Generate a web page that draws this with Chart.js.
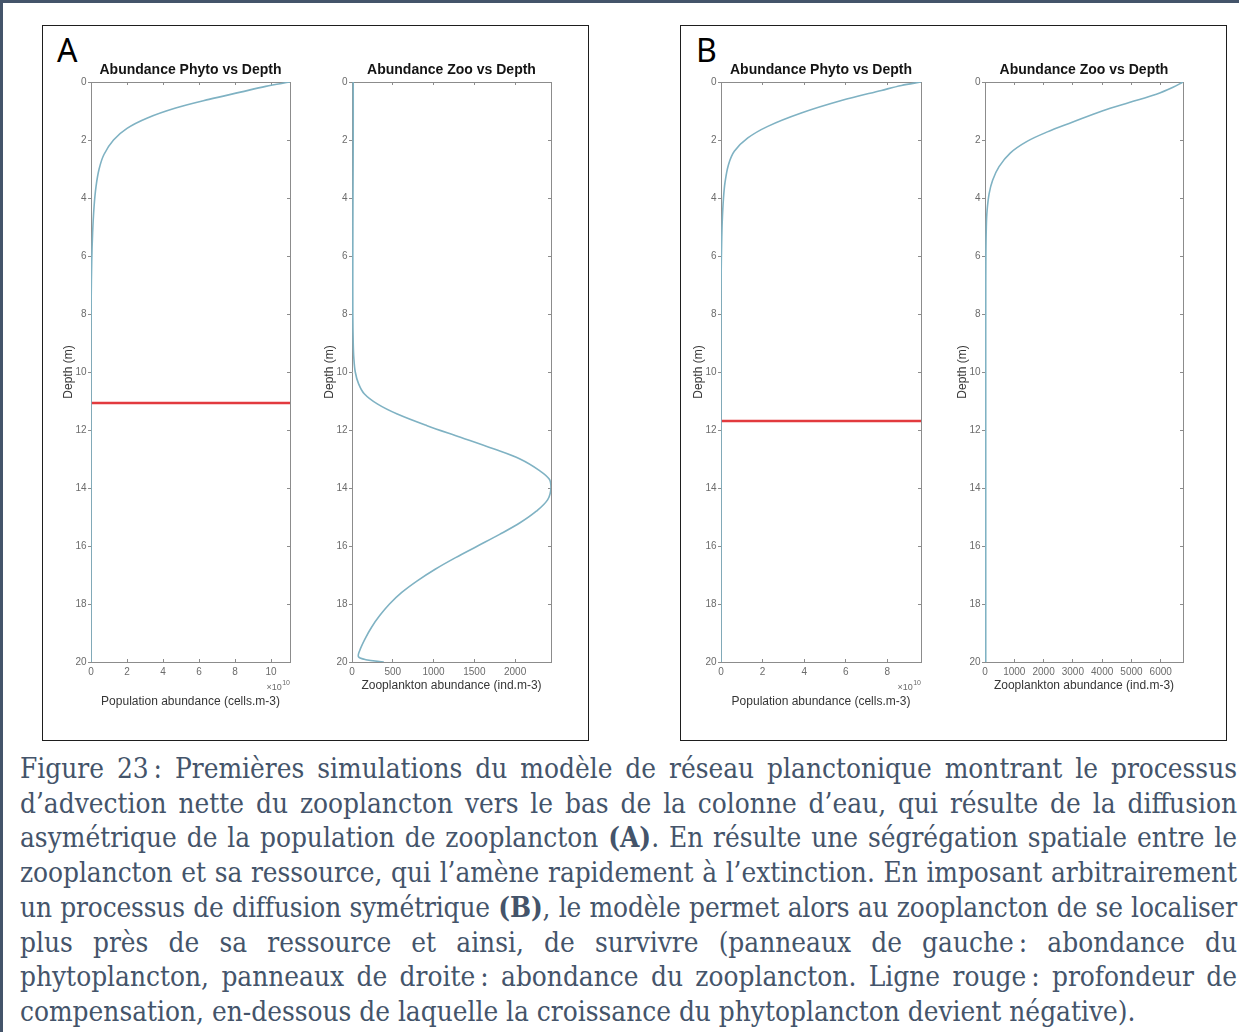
<!DOCTYPE html>
<html lang="fr">
<head>
<meta charset="utf-8">
<title>Figure 23</title>
<script src="https://cdn.jsdelivr.net/npm/chart.js@4.4.0/dist/chart.umd.min.js"></script>
<style>
  html, body { margin: 0; padding: 0; background: #fff; }
  #page { position: relative; width: 1239px; height: 1032px; overflow: hidden; background: #fff; }
  .frame { position: absolute; left: 0; top: 0; width: 1239px; height: 1032px; box-sizing: border-box;
           border-left: 3px solid #44546a; border-top: 3px solid #44546a; }
  .box { position: absolute; box-sizing: border-box; border: 1.5px solid #1e1e1e; }
  .letter { position: absolute; font-family: "Noto Sans", sans-serif; font-size: 32px; line-height: 32px; color: #000; }
  canvas { position: absolute; }
  #caption { position: absolute; left: 20px; top: 752px; width: 1217px;
             font-family: "DejaVu Serif", serif; font-stretch: semi-condensed;
             font-size: 24px; line-height: 34.7px; color: #44546a; }
  #caption .l { text-align: justify; text-align-last: justify; }
  #caption .l.last { text-align: left; text-align-last: left; }
  #caption b { font-weight: bold; }
  #caption .probe { position: absolute; left: 0; top: 0; white-space: nowrap; visibility: hidden; }
</style>
</head>
<body>
<div id="page">
  <div class="frame"></div>

  <div class="box" style="left:42px; top:25px; width:547px; height:716px;"></div>
  <div class="box" style="left:680px; top:25px; width:547px; height:716px;"></div>

  <div class="letter" style="left:57px; top:34px;">A</div>
  <div class="letter" style="left:696px; top:34px;">B</div>

  <canvas id="phytoA"></canvas>
  <canvas id="zooA"></canvas>
  <canvas id="phytoB"></canvas>
  <canvas id="zooB"></canvas>

  <div id="caption">
    <div class="l">Figure 23&#8239;: Premières simulations du modèle de réseau planctonique montrant le processus</div>
    <div class="l">d’advection nette du zooplancton vers le bas de la colonne d’eau, qui résulte de la diffusion</div>
    <div class="l">asymétrique de la population de zooplancton <b>(A)</b>. En résulte une ségrégation spatiale entre le</div>
    <div class="l">zooplancton et sa ressource, qui l’amène rapidement à l’extinction. En imposant arbitrairement</div>
    <div class="l">un processus de diffusion symétrique <b>(B)</b>, le modèle permet alors au zooplancton de se localiser</div>
    <div class="l">plus près de sa ressource et ainsi, de survivre (panneaux de gauche&#8239;: abondance du</div>
    <div class="l">phytoplancton, panneaux de droite&#8239;: abondance du zooplancton. Ligne rouge&#8239;: profondeur de</div>
    <div class="l last">compensation, en-dessous de laquelle la croissance du phytoplancton devient négative).</div>
  </div>
</div>

<script>
// ---- Simulation A (asymmetric diffusion) ----
// phytoplankton abundance, units of 1e10 cells.m-3, against depth (m)
const depthPhytoA = [0, 0.15, 0.35, 0.6, 0.9, 1.25, 1.6, 2.0, 2.5, 3.0, 3.6, 4.3, 5.2, 6.2, 7.5, 9, 12, 16, 20];
const phytoA      = [11.05, 9.7, 8.3, 6.55, 4.7, 3.1, 2.0, 1.25, 0.72, 0.45, 0.28, 0.17, 0.09, 0.04, 0.01, 0, 0, 0, 0];
// zooplankton abundance, ind.m-3
const depthZooA = [0, 2, 4, 6, 8, 9, 9.5, 10, 10.4, 10.75, 11.1, 11.45, 11.85, 12.25, 12.65, 13.0, 13.4, 13.7, 14.0,
                   14.4, 14.8, 15.2, 15.6, 16.0, 16.4, 16.8, 17.2, 17.6, 18.0, 18.4, 18.8, 19.2, 19.6, 19.82, 19.92, 20];
const zooA      = [15, 15, 12, 10, 10, 15, 22, 40, 80, 150, 310, 555, 920, 1330, 1735, 2060, 2300, 2420, 2440,
                   2400, 2260, 2060, 1810, 1540, 1270, 1020, 800, 610, 460, 340, 240, 160, 95, 80, 170, 390];
const compensationDepthA = 11.07;

// ---- Simulation B (symmetric diffusion) ----
const depthPhytoB = [0, 0.12, 0.29, 0.64, 1.07, 1.53, 1.93, 2.39, 2.85, 3.43, 4.0, 4.8, 5.6, 6.5, 8, 12, 16, 20];
const phytoB      = [9.62, 8.68, 7.72, 5.79, 3.86, 2.25, 1.29, 0.64, 0.36, 0.2, 0.12, 0.06, 0.03, 0.01, 0, 0, 0, 0];
const depthZooB = [0, 0.18, 0.42, 0.7, 1.0, 1.39, 1.72, 2.04, 2.45, 2.92, 3.39, 3.86, 4.45, 5, 6, 8, 10, 12, 14, 16, 18, 20];
const zooB      = [6760, 6420, 5850, 4950, 4000, 2977, 2130, 1450, 860, 480, 260, 140, 70, 45, 30, 25, 25, 25, 25, 25, 25, 25];
const compensationDepthB = 11.69;

// ---- tick values ----
const depthTicks  = [0, 2, 4, 6, 8, 10, 12, 14, 16, 18, 20];
const phytoTicksA = [0, 2, 4, 6, 8, 10];
const phytoTicksB = [0, 2, 4, 6, 8];
const zooTicksA   = [0, 500, 1000, 1500, 2000];
const zooTicksB   = [0, 1000, 2000, 3000, 4000, 5000, 6000];

const FONT = '"Liberation Sans", Arial, sans-serif';
const AXIS = '#8c8c8c';
const TICK_TEXT = '#6b6b6b';
const LABEL_TEXT = '#363636';
const CURVE = '#7fb2c3';
const RED = '#e23a3e';

Chart.defaults.font.family = FONT;

// draws the "x10^n" multiplier under the right end of the abundance axis
const exponentLabel = {
  id: 'exponentLabel',
  afterDraw(chart, args, o) {
    if (!o || !o.power) return;
    const { ctx, chartArea } = chart;
    ctx.save();
    ctx.fillStyle = TICK_TEXT;
    ctx.textAlign = 'right';
    ctx.textBaseline = 'alphabetic';
    ctx.font = '7px ' + FONT;
    const supW = ctx.measureText(o.power).width;
    ctx.fillText(o.power, chartArea.right, chartArea.bottom + 23);
    ctx.font = '9px ' + FONT;
    ctx.fillText('\u00d710', chartArea.right - supW - 0.5, chartArea.bottom + 27.5);
    ctx.restore();
  }
};

function toPoints(xs, ys) {
  return xs.map((v, i) => ({ x: v, y: ys[i] }));
}

function fixedTicks(values) {
  return scale => { scale.ticks = values.map(v => ({ value: v })); };
}

function depthProfile(id, area, cfg) {
  const padL = 46, padR = 10, padT = 26, padB = 52;
  const cv = document.getElementById(id);
  const w = area.right - area.left + padL + padR;
  const h = area.bottom - area.top + padT + padB;
  cv.width = w; cv.height = h;
  cv.style.width = w + 'px'; cv.style.height = h + 'px';
  cv.style.left = (area.left - padL) + 'px';
  cv.style.top = (area.top - padT) + 'px';

  const xMax = Math.max(...cfg.values);
  const tickFont = { family: FONT, size: 10 };
  const titleFont = { family: FONT, size: 12 };
  const plain = v => String(v);

  const datasets = [{
    data: toPoints(cfg.values, cfg.depths),
    showLine: true, borderColor: CURVE, borderWidth: 1.6,
    pointRadius: 0, tension: 0.35, fill: false
  }];
  if (cfg.compensation !== undefined) {
    datasets.push({
      data: [{ x: 0, y: cfg.compensation }, { x: xMax, y: cfg.compensation }],
      showLine: true, borderColor: RED, borderWidth: 2.4, pointRadius: 0, fill: false
    });
  }

  const frameAxis = (pos, extra) => Object.assign({
    type: 'linear', position: pos,
    border: { display: true, color: AXIS, width: 1 },
    grid: { drawOnChartArea: false, drawTicks: true, tickLength: -3, color: AXIS, lineWidth: 1 }
  }, extra);

  new Chart(cv, {
    type: 'scatter',
    data: { datasets },
    plugins: [exponentLabel],
    options: {
      responsive: false, maintainAspectRatio: false, animation: false, devicePixelRatio: 1,
      layout: { padding: 0 },
      events: [],
      plugins: {
        legend: { display: false },
        tooltip: { enabled: false },
        title: {
          display: true, text: cfg.title, fullSize: false, color: '#141414',
          font: { family: FONT, size: 14, weight: 'bold' },
          padding: { top: 5.8, bottom: 3.4 }
        },
        exponentLabel: { power: cfg.power }
      },
      scales: {
        x: frameAxis('bottom', {
          min: 0, max: xMax,
          afterBuildTicks: fixedTicks(cfg.ticks),
          ticks: { color: TICK_TEXT, font: tickFont, padding: 7, maxRotation: 0, autoSkip: false, callback: plain },
          title: { display: true, text: cfg.xTitle, color: LABEL_TEXT, font: titleFont,
                   padding: { top: 0, bottom: cfg.xTitleGap } },
          afterFit: s => { s.height = padB; }
        }),
        x2: frameAxis('top', {
          min: 0, max: xMax,
          afterBuildTicks: fixedTicks(cfg.ticks),
          ticks: { display: false },
          afterFit: s => { s.height = 0; }
        }),
        y: frameAxis('left', {
          min: depthTicks[0], max: depthTicks[depthTicks.length - 1], reverse: true,
          afterBuildTicks: fixedTicks(depthTicks),
          grid: { drawOnChartArea: false, drawTicks: true, tickLength: 3, color: AXIS, lineWidth: 1 },
          ticks: { color: TICK_TEXT, font: tickFont, padding: 1.5, autoSkip: false, callback: plain },
          title: { display: true, text: 'Depth (m)', color: LABEL_TEXT, font: titleFont,
                   padding: { top: 16.8, bottom: 0 } },
          afterFit: s => { s.width = padL; }
        }),
        y2: frameAxis('right', {
          min: depthTicks[0], max: depthTicks[depthTicks.length - 1], reverse: true,
          afterBuildTicks: fixedTicks(depthTicks),
          ticks: { display: false },
          afterFit: s => { s.width = padR; }
        })
      }
    }
  });
}

const plotTop = 82, plotBottom = 662;

depthProfile('phytoA', { left: 91, right: 290, top: plotTop, bottom: plotBottom }, {
  title: 'Abundance Phyto vs Depth', depths: depthPhytoA, values: phytoA, ticks: phytoTicksA,
  xTitle: 'Population abundance (cells.m-3)', xTitleGap: 5.3, power: '10',
  compensation: compensationDepthA
});
depthProfile('zooA', { left: 352, right: 551, top: plotTop, bottom: plotBottom }, {
  title: 'Abundance Zoo vs Depth', depths: depthZooA, values: zooA, ticks: zooTicksA,
  xTitle: 'Zooplankton abundance (ind.m-3)', xTitleGap: 20.8
});
depthProfile('phytoB', { left: 721, right: 921, top: plotTop, bottom: plotBottom }, {
  title: 'Abundance Phyto vs Depth', depths: depthPhytoB, values: phytoB, ticks: phytoTicksB,
  xTitle: 'Population abundance (cells.m-3)', xTitleGap: 5.3, power: '10',
  compensation: compensationDepthB
});
depthProfile('zooB', { left: 985, right: 1183, top: plotTop, bottom: plotBottom }, {
  title: 'Abundance Zoo vs Depth', depths: depthZooB, values: zooB, ticks: zooTicksB,
  xTitle: 'Zooplankton abundance (ind.m-3)', xTitleGap: 20.8
});

// caption: size the type so the unjustified last line keeps its set width,
// then tighten any justified line that would otherwise wrap
(function fitCaption() {
  const cap = document.getElementById('caption');
  const lines = cap.querySelectorAll('.l');
  const last = lines[lines.length - 1];
  const probe = document.createElement('span');
  probe.className = 'probe';
  cap.appendChild(probe);
  let size = parseFloat(getComputedStyle(cap).fontSize);
  probe.innerHTML = last.innerHTML;
  for (let k = 0; k < 4; k++) {
    const wNow = probe.getBoundingClientRect().width;
    size = Math.max(18, Math.min(30, size * 1115 / wNow));
    cap.style.fontSize = size + 'px';
  }
  lines.forEach(line => {
    probe.innerHTML = line.innerHTML;
    let l = 0;
    probe.style.letterSpacing = '0px';
    while (probe.getBoundingClientRect().width > 1210 && l > -1.5) {
      l -= 0.05;
      probe.style.letterSpacing = l + 'px';
    }
    line.style.letterSpacing = l + 'px';
  });
  probe.remove();
})();
</script>
</body>
</html>
